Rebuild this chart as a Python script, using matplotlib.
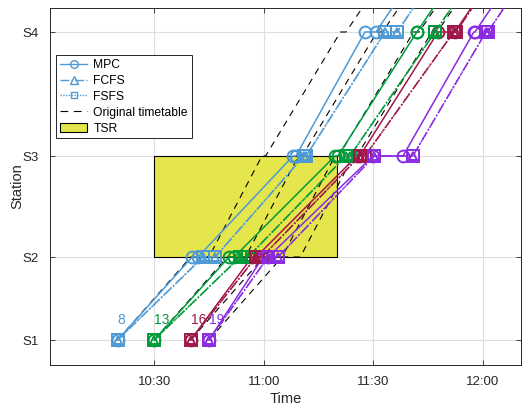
import matplotlib
matplotlib.use('Agg')
import matplotlib.pyplot as plt
from matplotlib.lines import Line2D
from matplotlib.patches import Patch, Rectangle

plt.rcParams['font.family'] = ['Liberation Sans', 'DejaVu Sans']

# ---------------- data ----------------
stations = ['S1', 'S2', 'S3', 'S4']
station_km = [0.0, 8.3, 18.4, 30.8]
# event positions: dep S1, arr S2, dep S2, arr S3, dep S3, arr S4, dep S4, arr S5 (beyond view)
event_km = [0.0, 8.3, 8.3, 18.4, 18.4, 30.8, 30.8, 40.0]

train_ids = ['8', '13', '16', '19']
train_colors = ['#4D9AD6', '#009A3A', '#A0184A', '#8A2BE2']

# times in minutes after 10:00
original_timetable = [
    [20.0, 40.0, 45.0, 59.5, 60.5, 81.0, 82.5, 99.5],
    [30.0, 50.0, 55.0, 69.5, 70.5, 91.0, 92.5, 109.5],
    [40.0, 60.0, 65.0, 79.5, 80.5, 101.0, 102.5, 119.5],
    [45.0, 65.0, 70.0, 84.5, 85.5, 106.0, 107.5, 124.5],
]
mpc_times = [
    [20.0, 40.4, 42.0, 68.0, 68.8, 87.7, 90.7, 107.7],
    [30.0, 50.5, 51.9, 79.5, 80.3, 101.9, 101.9, 118.9],
    [40.0, 56.8, 57.9, 85.5, 86.3, 107.7, 112.3, 129.3],
    [45.0, 59.8, 61.2, 89.9, 98.1, 117.5, 117.8, 134.8],
]
fcfs_times = [
    [20.0, 43.4, 46.7, 71.0, 71.6, 93.2, 96.5, 113.5],
    [30.0, 53.5, 55.7, 82.5, 83.6, 106.9, 106.9, 123.9],
    [40.0, 57.9, 59.5, 86.3, 87.7, 112.0, 112.6, 129.6],
    [45.0, 61.2, 63.9, 90.3, 100.8, 120.8, 121.3, 138.3],
]
fsfs_times = [
    [20.0, 43.4, 46.7, 71.0, 71.6, 93.2, 96.5, 113.5],
    [30.0, 53.5, 55.7, 82.5, 83.6, 106.9, 106.9, 123.9],
    [40.0, 57.9, 59.5, 86.3, 87.7, 112.0, 112.6, 129.6],
    [45.0, 61.2, 63.9, 90.3, 100.8, 120.8, 121.3, 138.3],
]

tsr_time = [30.0, 80.0]          # 10:30 - 11:20
tsr_km = [8.3, 18.4]             # between S2 and S3

xtick_vals = [30, 60, 90, 120]
xtick_labels = ['10:30', '11:00', '11:30', '12:00']

# ---------------- plot ----------------
fig = plt.figure(figsize=(5.22, 4.11), dpi=100)
ax = fig.add_axes([50 / 522, (411 - 365) / 411, 471 / 522, 357 / 411])

ax.grid(True, color='#DEDEDE', lw=0.8, zorder=0)
ax.set_axisbelow(True)

ax.add_patch(Rectangle((tsr_time[0], tsr_km[0]), tsr_time[1] - tsr_time[0],
                       tsr_km[1] - tsr_km[0], facecolor='#E5E54C',
                       edgecolor='black', lw=0.8, zorder=1))

for i, tid in enumerate(train_ids):
    c = train_colors[i]
    ax.plot(original_timetable[i], event_km, color='black', lw=0.8,
            dashes=(6, 5), zorder=2)
    ax.plot(mpc_times[i], event_km, color=c, lw=1.1, ls='-', marker='o',
            ms=8.5, mfc='none', mew=1.4, zorder=3)
    ax.plot(fcfs_times[i], event_km, color=c, lw=1.1, ls='-.', marker='^',
            ms=6, mfc='none', mew=1.4, zorder=4)
    ax.plot(fsfs_times[i], event_km, color=c, lw=1.1, dashes=(1, 1.2),
            marker='s', ms=8, mfc='none', mew=1.4, zorder=4)
    ax.text(mpc_times[i][0], station_km[0] + 2.0, tid, color=c,
            ha='left', va='center', fontsize=10)

ax.set_xlim(1.5, 130.4)
ax.set_ylim(-2.5, 33.2)
ax.set_xticks(xtick_vals)
ax.set_xticklabels(xtick_labels)
ax.set_yticks(station_km)
ax.set_yticklabels(stations)

for sp in ax.spines.values():
    sp.set_color('#262626')
    sp.set_linewidth(0.7)
ax.tick_params(direction='in', length=3.5, width=0.6, colors='#262626',
               labelsize=9.5, top=True, right=True)
ax.tick_params(axis='x', pad=8)
ax.tick_params(axis='y', pad=8)
ax.set_xlabel('Time', fontsize=10.5, color='#262626', labelpad=3)
ax.set_ylabel('Station', fontsize=10.5, color='#262626', labelpad=-1)

handles = [
    Line2D([], [], color=train_colors[0], ls='-', marker='o', ms=5.5,
           mfc='none', lw=1),
    Line2D([], [], color=train_colors[0], ls='-.', marker='^', ms=5.5,
           mfc='none', lw=1),
    Line2D([], [], color=train_colors[0], dashes=(1, 1), marker='s', ms=4.5,
           mfc='none', lw=1),
    Line2D([], [], color='black', lw=0.8, dashes=(7, 5)),
    Patch(facecolor='#E5E54C', edgecolor='black', lw=0.8),
]
labels = ['MPC', 'FCFS', 'FSFS', 'Original timetable', 'TSR']
leg = ax.legend(handles, labels, loc='upper left',
                bbox_to_anchor=(0.0127, 0.868), borderaxespad=0,
                fontsize=8.7, frameon=True, fancybox=False,
                edgecolor='#262626', framealpha=1, handlelength=2.3,
                handletextpad=0.5, labelspacing=0.33, borderpad=0.3)
leg.get_frame().set_linewidth(0.7)
leg.set_zorder(10)

fig.savefig('out.png', dpi=100)
